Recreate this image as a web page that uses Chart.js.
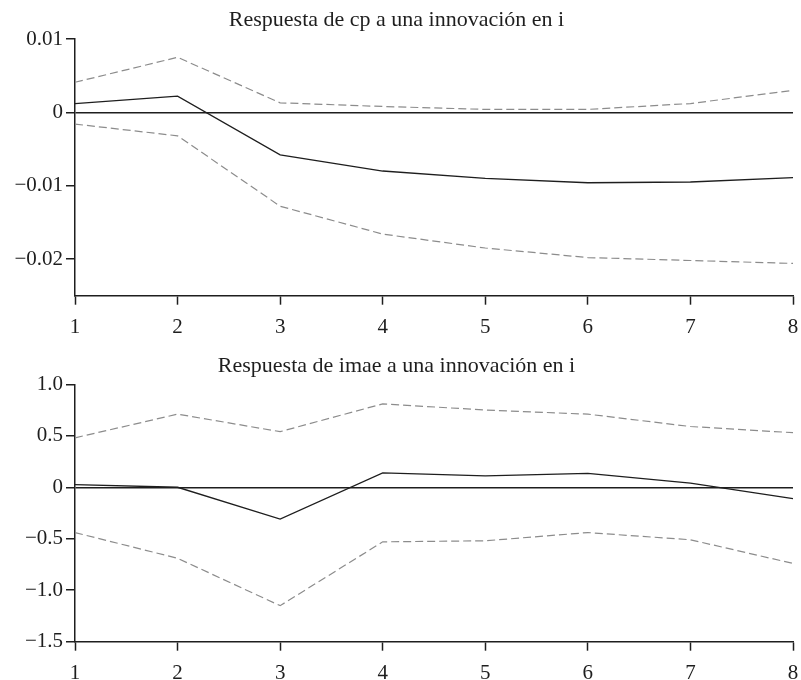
<!DOCTYPE html>
<html>
<head>
<meta charset="utf-8">
<script src="https://cdn.jsdelivr.net/npm/chart.js@4/dist/chart.umd.min.js"></script>
<style>
  html, body { margin: 0; padding: 0; background: #fff; }
  .panel { position: absolute; left: 0; width: 801px; height: 340px; }
  #top { top: 0; }
  #bottom { top: 340px; }
</style>
</head>
<body>
<div class="panel" id="top"><canvas id="cpChart" width="801" height="340"></canvas></div>
<div class="panel" id="bottom"><canvas id="imaeChart" width="801" height="340"></canvas></div>
<script>
// Horizon (periods after the shock)
const periods = ['1', '2', '3', '4', '5', '6', '7', '8'];

// Response of cp to a shock in i, with its confidence band
const cpResp  = [0.0012, 0.0022, -0.0058, -0.0080, -0.0090, -0.0096, -0.0095, -0.0089];
const cpUpper = [0.0041, 0.0075, 0.0013, 0.0008, 0.0004, 0.0004, 0.0012, 0.0030];
const cpLower = [-0.0016, -0.0032, -0.0128, -0.0166, -0.0185, -0.0198, -0.0202, -0.0206];

// Response of imae to a shock in i, with its confidence band
const imaeResp  = [0.025, 0.00, -0.31, 0.14, 0.11, 0.135, 0.04, -0.11];
const imaeUpper = [0.48, 0.71, 0.54, 0.81, 0.75, 0.71, 0.59, 0.53];
const imaeLower = [-0.44, -0.69, -1.15, -0.53, -0.52, -0.44, -0.51, -0.74];

// Y tick values and their printed labels
const cpTicks = [0.01, 0, -0.01, -0.02];
const cpTickLabels = ['0.01', '0', '\u22120.01', '\u22120.02'];
const imaeTicks = [1.0, 0.5, 0, -0.5, -1.0, -1.5];
const imaeTickLabels = ['1.0', '0.5', '0', '\u22120.5', '\u22121.0', '\u22121.5'];

const titles = [
  'Respuesta de cp a una innovación en i',
  'Respuesta de imae a una innovación en i'
];

const INK = '#1e1e1e';
const BAND = '#8c8c8c';
const SERIF = '"Liberation Serif", "Times New Roman", serif';

Chart.defaults.font.family = SERIF;
Chart.defaults.color = INK;

function makeChart(canvasId, cfg) {
  const datasets = [
    { data: cfg.upper, borderColor: BAND, borderWidth: 1.2, borderDash: [8, 4] },
    { data: cfg.lower, borderColor: BAND, borderWidth: 1.2, borderDash: [8, 4] },
    { data: cfg.resp,  borderColor: INK,  borderWidth: 1.3 }
  ].map(d => Object.assign({ pointRadius: 0, tension: 0, fill: false }, d));

  return new Chart(document.getElementById(canvasId), {
    type: 'line',
    data: { labels: periods, datasets },
    options: {
      responsive: false,
      animation: false,
      devicePixelRatio: 1,
      layout: { padding: { left: 0, right: 8, top: 0, bottom: 0 } },
      plugins: {
        legend: { display: false },
        tooltip: { enabled: false },
        title: {
          display: true,
          text: cfg.title,
          color: INK,
          font: { family: SERIF, size: 22, weight: 'normal' },
          padding: cfg.titlePad
        }
      },
      scales: {
        x: {
          type: 'category',
          offset: false,
          grid: {
            color: 'rgba(0,0,0,0)',
            tickColor: INK,
            tickLength: 9,
            tickWidth: 1.5
          },
          border: { display: true, color: INK, width: 1.5 },
          ticks: { font: { size: 21 }, color: INK, padding: 10, maxRotation: 0 },
          afterFit: s => {
            s.height = cfg.xAxisHeight;
            // keep the end labels from pulling the plot edges inward
            s.paddingLeft = 0;
            s.paddingRight = 8;
          }
        },
        y: {
          min: cfg.min,
          max: cfg.max,
          afterBuildTicks: s => { s.ticks = cfg.ticks.map(v => ({ value: v })); },
          grid: {
            color: c => (c.tick && c.tick.value === 0) ? INK : 'rgba(0,0,0,0)',
            lineWidth: 1.5,
            tickColor: INK,
            tickLength: 9,
            tickWidth: 1.5
          },
          border: { display: true, color: INK, width: 1.5 },
          ticks: {
            font: { size: 21 },
            color: INK,
            padding: 3,
            callback: v => {
              const i = cfg.ticks.findIndex(t => Math.abs(t - v) < 1e-9);
              return i >= 0 ? cfg.tickLabels[i] : '';
            }
          },
          afterFit: s => { s.width = 75; }
        }
      }
    }
  });
}

makeChart('cpChart', {
  title: titles[0],
  resp: cpResp, upper: cpUpper, lower: cpLower,
  min: -0.025, max: 0.01,
  ticks: cpTicks, tickLabels: cpTickLabels,
  titlePad: { top: 6.6, bottom: 6 },
  xAxisHeight: 44.3
});

makeChart('imaeChart', {
  title: titles[1],
  resp: imaeResp, upper: imaeUpper, lower: imaeLower,
  min: -1.5, max: 1.0,
  ticks: imaeTicks, tickLabels: imaeTickLabels,
  titlePad: { top: 12.6, bottom: 5.3 },
  xAxisHeight: 38.3
});
</script>
</body>
</html>
